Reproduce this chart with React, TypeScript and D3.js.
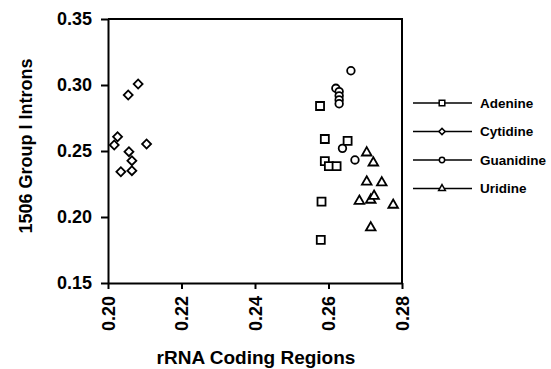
import { useEffect, useRef } from "react";
import * as d3 from "d3";

// values
const adenineX = [0.2577, 0.259, 0.2652, 0.259, 0.2601, 0.2622, 0.2581, 0.2579];
const adenineY = [0.2841, 0.2591, 0.2576, 0.2424, 0.2386, 0.2386, 0.2116, 0.1826];

const cytidineX = [0.2082, 0.2055, 0.2026, 0.2017, 0.2105, 0.2057, 0.2065, 0.2035, 0.2065];
const cytidineY = [0.3008, 0.2924, 0.2608, 0.2545, 0.2553, 0.2495, 0.2427, 0.2343, 0.2351];

const guanidineX = [0.2661, 0.262, 0.2629, 0.2629, 0.2629, 0.2629, 0.2638, 0.2672];
const guanidineY = [0.3108, 0.2975, 0.295, 0.2918, 0.2887, 0.2858, 0.252, 0.2432];

const uridineX = [0.2704, 0.2722, 0.2704, 0.2745, 0.2684, 0.2715, 0.2724, 0.2776, 0.2715];
const uridineY = [0.2487, 0.2411, 0.2267, 0.226, 0.2121, 0.2129, 0.2159, 0.2091, 0.1919];

const seriesNames = ["Adenine", "Cytidine", "Guanidine", "Uridine"];
const xTicks = [0.2, 0.22, 0.24, 0.26, 0.28];
const yTicks = [0.15, 0.2, 0.25, 0.3, 0.35];

const W = 551;
const H = 369;
const FONT = "'Liberation Sans', Arial, Helvetica, sans-serif";

type Series = { name: string; xs: number[]; ys: number[] };

const series: Series[] = [
  { name: seriesNames[0], xs: adenineX, ys: adenineY },
  { name: seriesNames[1], xs: cytidineX, ys: cytidineY },
  { name: seriesNames[2], xs: guanidineX, ys: guanidineY },
  { name: seriesNames[3], xs: uridineX, ys: uridineY },
];

// draw one marker of the given series at (0,0) of g
function drawMarker(g: d3.Selection<SVGGElement, unknown, null, undefined>, name: string, small: boolean) {
  const k = small ? 0.7 : 1;
  const base = { fill: "white", stroke: "black", sw: small ? 1.5 : 1.8 };
  let path: string | null = null;
  let rotate = 0;
  if (name === "Adenine") path = d3.symbol(d3.symbolSquare, 64 * k * k)();
  if (name === "Cytidine") {
    path = d3.symbol(d3.symbolSquare, 40 * k * k)();
    rotate = 45;
  }
  if (name === "Guanidine") path = d3.symbol(d3.symbolCircle, 45 * k * k)();
  if (name === "Uridine") path = d3.symbol(d3.symbolTriangle, 40 * k * k)();
  g.append("path")
    .attr("d", path)
    .attr("transform", `rotate(${rotate})`)
    .attr("fill", base.fill)
    .attr("stroke", base.stroke)
    .attr("stroke-width", base.sw);
}

function ScatterChart() {
  const svgRef = useRef<SVGSVGElement>(null);

  useEffect(() => {
    const svg = d3.select(svgRef.current);
    svg.selectAll("*").remove();

    const x = d3.scaleLinear().domain([0.2, 0.28]).range([108, 402]);
    const y = d3.scaleLinear().domain([0.15, 0.35]).range([283, 19]);

    // frame: top and right borders
    svg.append("path")
      .attr("d", `M${x(0.2)},${y(0.35)}H${x(0.28)}V${y(0.15)}`)
      .attr("fill", "none")
      .attr("stroke", "black")
      .attr("stroke-width", 2);

    // y axis
    const yAxis = svg.append("g").attr("transform", `translate(${x(0.2)},0)`)
      .call(d3.axisLeft(y).tickValues(yTicks).tickSize(7).tickSizeOuter(0).tickFormat(d3.format(".2f")));
    yAxis.select(".domain").attr("stroke-width", 2);
    yAxis.selectAll(".tick line").attr("stroke-width", 2);
    yAxis.selectAll(".tick text")
      .attr("x", -16)
      .style("font-family", FONT)
      .style("font-weight", "bold")
      .style("font-size", "18px")
      .attr("fill", "black");

    // x axis
    const xAxis = svg.append("g").attr("transform", `translate(0,${y(0.15)})`)
      .call(d3.axisBottom(x).tickValues(xTicks).tickSize(6).tickSizeOuter(0).tickFormat(d3.format(".2f")));
    xAxis.select(".domain").attr("stroke-width", 2);
    xAxis.selectAll(".tick line").attr("stroke-width", 2);
    xAxis.selectAll(".tick text")
      .attr("transform", "rotate(-90)")
      .attr("x", -13)
      .attr("y", 0)
      .attr("dy", "0.35em")
      .attr("text-anchor", "end")
      .style("font-family", FONT)
      .style("font-weight", "bold")
      .style("font-size", "18px")
      .attr("fill", "black");

    // axis titles
    svg.append("text")
      .attr("x", 256)
      .attr("y", 364)
      .attr("text-anchor", "middle")
      .style("font-family", FONT)
      .style("font-weight", "bold")
      .style("font-size", "19px")
      .text("rRNA Coding Regions");

    svg.append("text")
      .attr("transform", `translate(32,146) rotate(-90)`)
      .attr("text-anchor", "middle")
      .style("font-family", FONT)
      .style("font-weight", "bold")
      .style("font-size", "18px")
      .text("1506 Group I Introns");

    // points
    series.forEach(s => {
      s.xs.forEach((xv, i) => {
        const g = svg.append("g").attr("transform", `translate(${x(xv)},${y(s.ys[i])})`);
        drawMarker(g, s.name, false);
      });
    });

    // legend
    const legend = svg.append("g").attr("transform", "translate(413,103)");
    series.forEach((s, i) => {
      const row = legend.append("g").attr("transform", `translate(0,${i * 28.5})`);
      row.append("line")
        .attr("x1", 0).attr("x2", 59)
        .attr("stroke", "black")
        .attr("stroke-width", 1.3);
      const m = row.append("g").attr("transform", "translate(29,0)");
      drawMarker(m, s.name, true);
      row.append("text")
        .attr("x", 67)
        .attr("dy", "0.36em")
        .style("font-family", FONT)
        .style("font-weight", "bold")
        .style("font-size", "13.5px")
        .text(s.name);
    });
  }, []);

  return (
    <svg
      ref={svgRef}
      width={W}
      height={H}
      style={{ position: "absolute", left: 0, top: 0, background: "white" }}
    />
  );
}

export default function App() {
  return <ScatterChart />;
}
